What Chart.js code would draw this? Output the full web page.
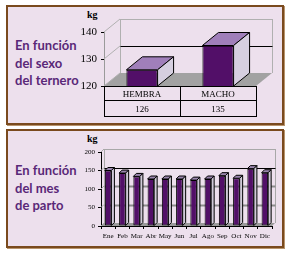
<!DOCTYPE html>
<html><head><meta charset="utf-8">
<script src="https://cdn.jsdelivr.net/npm/chart.js@4"></script>
<style>
html,body{margin:0;padding:0;background:#fff;width:290px;height:253px;overflow:hidden;position:relative;}
.panel{position:absolute;left:6px;width:274px;background:#ede0ed;border:2px solid #7a4a1e;box-shadow:1px 1px 0 #b8946c;}
#p1{top:5px;height:116px;}
#p2{top:129px;height:115px;}
.title{position:absolute;left:15px;font-family:Lato,sans-serif;font-size:13px;font-weight:bold;line-height:17.5px;color:#5a2878;white-space:nowrap;}
.kg{position:absolute;left:87px;font-family:'Liberation Serif',serif;font-size:10px;line-height:10px;font-weight:bold;color:#000;}
canvas{position:absolute;left:0;top:0;}
</style></head>
<body>
<div class="panel" id="p1"></div>
<div class="panel" id="p2"></div>
<div class="title" style="top:37px">En función<br>del sexo<br>del ternero</div>
<div class="title" style="top:162px">En función<br>del mes<br>de parto</div>
<div class="kg" style="top:10px">kg</div>
<div class="kg" style="top:134px">kg</div>
<canvas id="c1" width="290" height="253"></canvas>
<canvas id="c2" width="290" height="253"></canvas>
<script>
const sexCategories = ['HEMBRA', 'MACHO'];
const sexWeights = [126, 135];
const sexRefLine = 130;
const monthCategories = ['Ene','Feb','Mar','Abr','May','Jun','Jul','Ago','Sep','Oct','Nov','Dic'];
const monthWeights = [150, 143, 134, 127, 127, 127, 124, 127, 136, 129, 155, 144];
const monthRefLine = 150;

Chart.defaults.font.family = "'Liberation Serif', serif";
Chart.defaults.color = '#000';

function poly(ctx, pts, fill, stroke) {
  ctx.beginPath();
  ctx.moveTo(pts[0][0], pts[0][1]);
  for (let i = 1; i < pts.length; i++) ctx.lineTo(pts[i][0], pts[i][1]);
  ctx.closePath();
  if (fill) { ctx.fillStyle = fill; ctx.fill(); }
  if (stroke) { ctx.strokeStyle = stroke; ctx.lineWidth = 1; ctx.stroke(); }
}
function seg(ctx, x1, y1, x2, y2, c, w) {
  ctx.beginPath(); ctx.moveTo(x1, y1); ctx.lineTo(x2, y2);
  ctx.strokeStyle = c; ctx.lineWidth = w || 1; ctx.stroke();
}

const box3d = {
  id: 'box3d',
  beforeDatasetsDraw(chart, args, o) {
    const { ctx, chartArea: a, scales: { y } } = chart;
    const dx = o.dx, dy = o.dy;
    ctx.save();
    poly(ctx, [[a.left, a.bottom], [a.right, a.bottom], [a.right + dx, a.bottom + dy], [a.left + dx, a.bottom + dy]], o.floor);
    const L = Math.round(a.left + dx) + 0.5, R = Math.round(a.right + dx) + 0.5;
    seg(ctx, L, a.top + dy, L, a.bottom + dy, o.wall);
    seg(ctx, R, a.top + dy, R, a.bottom + dy, o.wall);
    y.ticks.forEach(t => {
      const py = Math.round(y.getPixelForValue(t.value) + dy) + 0.5;
      if (t.value === o.mark) seg(ctx, L, py, R, py, '#000', 1);
      else if (t.value === y.max) seg(ctx, L, py, R, py, o.wall, 1);
      else if (t.value !== y.min) seg(ctx, L, py, R, py, o.grid, o.gridWidth);
      seg(ctx, a.left, y.getPixelForValue(t.value), a.left + dx, y.getPixelForValue(t.value) + dy, o.wall, 1);
    });
    ctx.restore();
  },
  afterDatasetsDraw(chart, args, o) {
    const ctx = chart.ctx, dx = o.dx, dy = o.dy, a = chart.chartArea;
    ctx.save();
    chart.getDatasetMeta(0).data.forEach(b => {
      const p = b.getProps(['x', 'y', 'width', 'base'], true);
      const x = p.x, y = p.y, width = p.width, base = Math.min(p.base, a.bottom);
      const l = x - width / 2, r = x + width / 2;
      poly(ctx, [[l, y], [r, y], [r + dx, y + dy], [l + dx, y + dy]], o.top, '#000');
      poly(ctx, [[r, y], [r + dx, y + dy], [r + dx, base + dy], [r, base]], o.side, '#000');
    });
    ctx.restore();
  }
};

const dataTable = {
  id: 'dataTable',
  afterDraw(chart, args, o) {
    if (!o.show) return;
    const { ctx, chartArea: a, scales: { x } } = chart;
    const labels = chart.data.labels, vals = chart.data.datasets[0].data;
    const t = Math.round(a.bottom) + 0.5, m = t + 14, btm = t + 30;
    const L = Math.round(a.left) + 0.5, R = Math.round(a.right) + 0.5;
    ctx.save();
    ctx.strokeStyle = '#000'; ctx.lineWidth = 1;
    ctx.strokeRect(L, t, R - L, btm - t);
    seg(ctx, L, m, R, m, '#000');
    for (let i = 1; i < labels.length; i++) {
      const d = Math.round((x.getPixelForValue(i - 1) + x.getPixelForValue(i)) / 2) + 0.5;
      seg(ctx, d, t, d, btm, '#000');
    }
    ctx.fillStyle = '#000';
    ctx.font = "9px 'Liberation Serif'";
    ctx.textAlign = 'center'; ctx.textBaseline = 'middle';
    labels.forEach((lab, i) => {
      const cx = x.getPixelForValue(i);
      ctx.fillText(lab, cx, (t + m) / 2 + 1);
      ctx.fillText(String(vals[i]), cx, (m + btm) / 2 + 1);
    });
    ctx.restore();
  }
};

new Chart(document.getElementById('c1'), {
  type: 'bar',
  data: { labels: sexCategories, datasets: [{ data: sexWeights, backgroundColor: '#520f68', borderColor: '#000', borderWidth: 1, borderSkipped: false, barPercentage: 0.41, categoryPercentage: 1 }] },
  options: {
    responsive: false, animation: false, devicePixelRatio: 1,
    layout: { padding: { left: 74, right: 34, top: 32, bottom: 167 } },
    scales: {
      x: { display: false },
      y: {
        min: 120, max: 140,
        afterFit(s) { s.width = 30; },
        ticks: { stepSize: 10, font: { size: 11 }, padding: 4, color: '#000' },
        grid: { drawOnChartArea: false, drawTicks: true, tickLength: 3, color: '#000' },
        border: { display: true, color: '#9a9a9a' }
      }
    },
    plugins: {
      legend: { display: false }, tooltip: { enabled: false },
      box3d: { dx: 16, dy: -13, floor: '#a2a2a2', wall: '#b0b0b0', grid: '#a0a0a0', gridWidth: 1, mark: sexRefLine, top: '#a07fba', side: '#d6cfe0' },
      dataTable: { show: true }
    }
  },
  plugins: [box3d, dataTable]
});

new Chart(document.getElementById('c2'), {
  type: 'bar',
  data: { labels: monthCategories, datasets: [{ data: monthWeights, backgroundColor: '#520f68', borderColor: '#000', borderWidth: 1, borderSkipped: false, barPercentage: 0.46, categoryPercentage: 1 }] },
  options: {
    responsive: false, animation: false, devicePixelRatio: 1,
    layout: { padding: { left: 71, right: 18, top: 152, bottom: 13 } },
    scales: {
      x: {
        afterFit(s) { s.height = 14; },
        ticks: { font: { size: 7 }, padding: 3, maxRotation: 0, autoSkip: false, color: '#000' },
        grid: { drawOnChartArea: false, drawTicks: true, tickLength: 3, color: '#000', offset: true },
        border: { display: true, color: '#000' }
      },
      y: {
        min: 0, max: 200,
        afterFit(s) { s.width = 30; },
        ticks: { stepSize: 50, font: { size: 7 }, padding: 3, color: '#000' },
        grid: { drawOnChartArea: false, drawTicks: true, tickLength: 3, color: '#000' },
        border: { display: true, color: '#000' }
      }
    },
    plugins: {
      legend: { display: false }, tooltip: { enabled: false },
      box3d: { dx: 3, dy: -3, floor: '#9a9a9a', wall: '#a8a8a8', grid: '#8c8c8c', gridWidth: 2, mark: monthRefLine, top: '#9a86ad', side: '#d0cad8' },
      dataTable: { show: false }
    }
  },
  plugins: [box3d, dataTable]
});
</script>
</body></html>
